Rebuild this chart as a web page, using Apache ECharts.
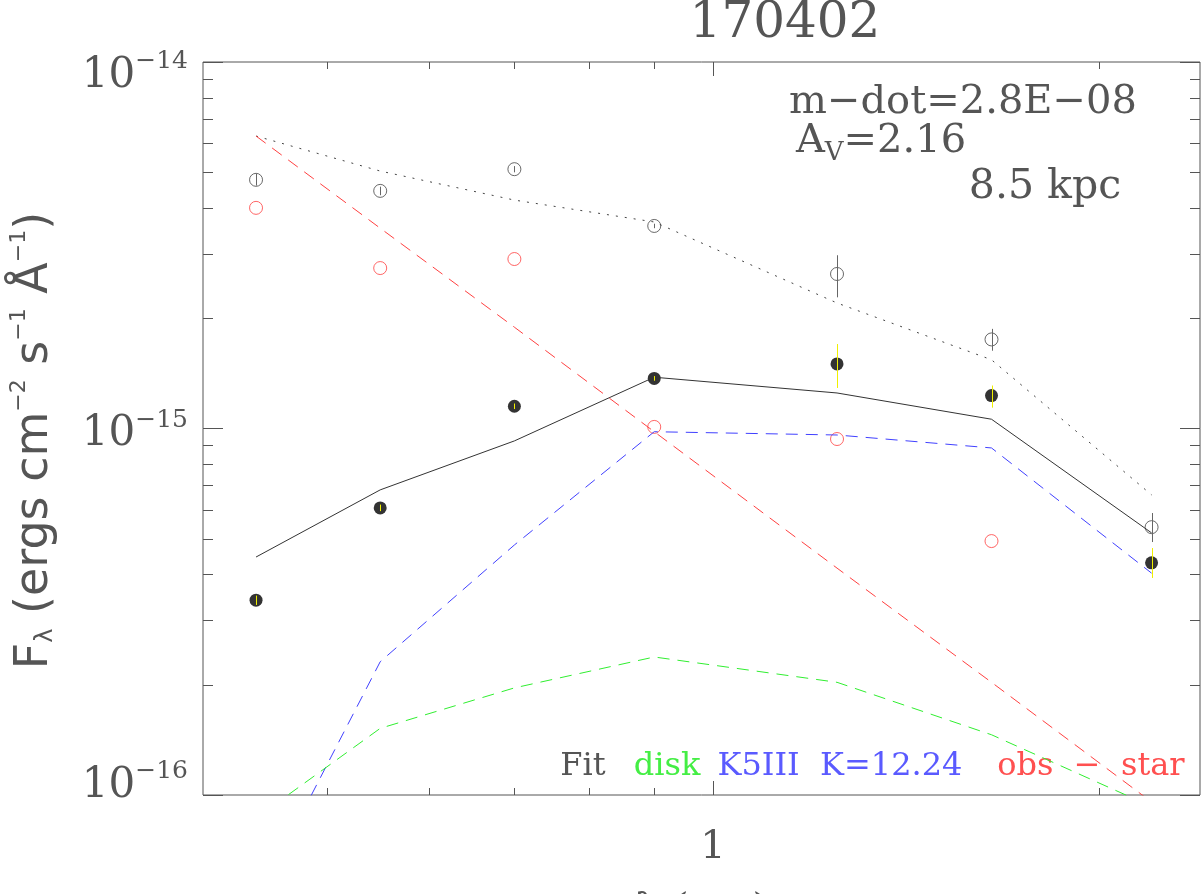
<!DOCTYPE html>
<html>
<head>
<meta charset="utf-8">
<script src="https://cdn.jsdelivr.net/npm/echarts@6/dist/echarts.min.js"></script>
<style>
  html, body { margin: 0; padding: 0; background: #fff; }
  #chart { width: 1202px; height: 894px; }
</style>
</head>
<body>
<div id="chart"></div>
<script>
// photometric bands, microns
const wavelength = [0.44, 0.55, 0.70, 0.90, 1.25, 1.65, 2.20];

// observed fluxes (open black circles) and their error range
const obsFlux = [4.77e-15, 4.45e-15, 5.10e-15, 3.57e-15, 2.64e-15, 1.75e-15, 5.38e-16];
const obsErrLo = [4.60e-15, 4.33e-15, 5.00e-15, 3.52e-15, 2.28e-15, 1.63e-15, 4.90e-16];
const obsErrHi = [4.95e-15, 4.57e-15, 5.20e-15, 3.62e-15, 2.97e-15, 1.87e-15, 5.88e-16];

// obs - star (open red circles), no K point
const residFlux = [4.00e-15, 2.74e-15, 2.90e-15, 1.01e-15, 9.36e-16, 4.93e-16, null];

// filled black points with yellow error bars
const diskObs = [3.40e-16, 6.07e-16, 1.15e-15, 1.37e-15, 1.50e-15, 1.23e-15, 4.30e-16];
const diskErrLo = [3.30e-16, 5.95e-16, 1.13e-15, 1.35e-15, 1.29e-15, 1.14e-15, 3.91e-16];
const diskErrHi = [3.50e-16, 6.20e-16, 1.17e-15, 1.39e-15, 1.70e-15, 1.31e-15, 4.72e-16];

// model curves
const fitFlux = [4.46e-16, 6.80e-16, 9.25e-16, 1.38e-15, 1.25e-15, 1.06e-15, 5.19e-16];
const totalFlux = [6.28e-15, 5.04e-15, 4.20e-15, 3.66e-15, 2.20e-15, 1.54e-15, 6.59e-16];
const redModel = [6.28e-15, 3.52e-15, 1.89e-15, 9.80e-16, 4.16e-16, 2.03e-16, 9.57e-17];
const starFlux = [5.10e-17, 2.31e-16, 4.81e-16, 9.80e-16, 9.60e-16, 8.85e-16, 4.03e-16];
const diskFlux = [8.65e-17, 1.52e-16, 1.96e-16, 2.38e-16, 2.03e-16, 1.46e-16, 9.30e-17];

// axis ticks and labels
const xMajorTicks = [1];
const xMinorTicks = [0.5, 0.6, 0.7, 0.8, 0.9, 2];
const xTickLabels = ['1'];
const yMajorTicks = [1e-16, 1e-15, 1e-14];
const yMinorTicks = [2e-16, 3e-16, 4e-16, 5e-16, 6e-16, 7e-16, 8e-16, 9e-16,
                     2e-15, 3e-15, 4e-15, 5e-15, 6e-15, 7e-15, 8e-15, 9e-15];
const yTickLabels = ['\u221216', '\u221215', '\u221214'];

const ink = '#555';
const serif = 'DejaVu Serif';
const sans = 'DejaVu Sans';

const pairs = arr => wavelength.map((w, i) => [w, arr[i]]);

const tickData = [];
yMajorTicks.forEach(v => tickData.push([1, v, 1, 1]));
yMinorTicks.forEach(v => tickData.push([1, v, 1, 0]));
xMajorTicks.forEach(v => tickData.push([v, 1e-15, 0, 1]));
xMinorTicks.forEach(v => tickData.push([v, 1e-15, 0, 0]));

const tickLine = (x1, y1, x2, y2) => ({
  type: 'line',
  shape: { x1, y1, x2, y2 },
  style: { stroke: ink, lineWidth: 1 }
});

const errorBars = (lo, hi, color, width) => ({
  type: 'custom',
  clip: false,
  z: 5,
  data: wavelength.map((w, i) => [w, lo[i], hi[i]]),
  renderItem: (params, api) => {
    const p0 = api.coord([api.value(0), api.value(1)]);
    const p1 = api.coord([api.value(0), api.value(2)]);
    const x = Math.round(p0[0]) + 0.5;
    return {
      type: 'line',
      shape: { x1: x, y1: p0[1], x2: x, y2: p1[1] },
      style: { stroke: color, lineWidth: width }
    };
  }
});

const chart = echarts.init(document.getElementById('chart'));

chart.setOption({
  backgroundColor: '#fff',
  animation: false,
  grid: {
    left: 203, top: 62, width: 997, height: 733,
    outerBoundsMode: 'none', containLabel: false,
    show: true, borderColor: ink, borderWidth: 1, backgroundColor: 'transparent'
  },
  xAxis: {
    type: 'log', logBase: 10, min: 0.4, max: 2.4,
    axisLine: { show: false }, axisTick: { show: false },
    axisLabel: { show: false }, splitLine: { show: false },
    name: '\u03bb (\u03bcm)', nameLocation: 'middle', nameGap: 96,
    nameTextStyle: { fontFamily: serif, fontSize: 40, color: ink }
  },
  yAxis: {
    type: 'log', logBase: 10, min: 1e-16, max: 1e-14,
    axisLine: { show: false }, axisTick: { show: false },
    axisLabel: { show: false }, splitLine: { show: false },
    name: '{m|F}{sub|\u03bb}{m| (ergs cm}{sup|\u22122}{m| s}{sup|\u22121}{m| \u00c5}{sup|\u22121}{m|)}',
    nameLocation: 'middle', nameRotate: 90, nameGap: 145,
    nameTextStyle: {
      color: ink,
      padding: [0, 24, 0, 0],
      rich: {
        m: { fontFamily: sans, fontSize: 46, lineHeight: 50, padding: [4, 0, 0, 0], color: ink },
        sup: { fontFamily: sans, fontSize: 22, lineHeight: 22, verticalAlign: 'top', color: ink },
        sub: { fontFamily: sans, fontSize: 24, lineHeight: 30, verticalAlign: 'bottom', color: ink }
      }
    }
  },
  graphic: [
    { type: 'text', x: 785, y: 24, style: { text: '170402', font: '50px "DejaVu Serif"', fill: ink, align: 'center', verticalAlign: 'middle' } },
    { type: 'text', x: 963, y: 103, style: { text: 'm\u2212dot=2.8E\u221208', font: '40px "DejaVu Serif"', fill: ink, align: 'center', verticalAlign: 'middle' } },
    {
      type: 'text', x: 881, y: 146,
      style: {
        text: '{a|A}{s|V}{a|=2.16}', align: 'center', verticalAlign: 'middle', fill: ink,
        rich: {
          a: { fontFamily: serif, fontSize: 40, lineHeight: 40, padding: [0, 0, 8, 0], fill: ink },
          s: { fontFamily: serif, fontSize: 26, lineHeight: 26, verticalAlign: 'bottom', fill: ink }
        }
      }
    },
    { type: 'text', x: 1045, y: 187, style: { text: '8.5 kpc', font: '41px "DejaVu Serif"', fill: ink, align: 'center', verticalAlign: 'middle' } },
    { type: 'text', x: 583, y: 767, style: { text: 'Fit', font: '32px "DejaVu Serif"', fill: ink, align: 'center', verticalAlign: 'middle' } },
    { type: 'text', x: 667, y: 767, style: { text: 'disk', font: '32px "DejaVu Serif"', fill: '#44ee44', align: 'center', verticalAlign: 'middle' } },
    { type: 'text', x: 840, y: 767, style: { text: 'K5III  K=12.24', font: '32px "DejaVu Serif"', fill: '#5a5aff', align: 'center', verticalAlign: 'middle' } },
    { type: 'text', x: 1091, y: 767, style: { text: 'obs  \u2212  star', font: '32px "DejaVu Serif"', fill: '#ff5050', align: 'center', verticalAlign: 'middle' } }
  ],
  series: [
    {
      name: 'total', type: 'line', data: pairs(totalFlux), symbol: 'none',
      lineStyle: { color: '#444', width: 1, type: [2, 7] }
    },
    {
      name: 'Fit', type: 'line', data: pairs(fitFlux), symbol: 'none',
      lineStyle: { color: '#333', width: 1 }
    },
    {
      name: 'obs - star model', type: 'line', data: pairs(redModel), symbol: 'none',
      lineStyle: { color: '#ff4040', width: 1, type: [12, 8] }
    },
    {
      name: 'K5III', type: 'line', data: pairs(starFlux), symbol: 'none',
      lineStyle: { color: '#4040ff', width: 1, type: [12, 8] }
    },
    {
      name: 'disk', type: 'line', data: pairs(diskFlux), symbol: 'none',
      lineStyle: { color: '#30ee30', width: 1, type: [12, 8] }
    },
    {
      name: 'obs', type: 'scatter', data: pairs(obsFlux), symbol: 'circle', symbolSize: 13,
      itemStyle: { color: 'rgba(0,0,0,0)', borderColor: '#444', borderWidth: 1 }
    },
    {
      name: 'obs - star', type: 'scatter', data: pairs(residFlux).filter(d => d[1] != null),
      symbol: 'circle', symbolSize: 13,
      itemStyle: { color: 'rgba(0,0,0,0)', borderColor: '#ff4040', borderWidth: 1 }
    },
    {
      name: 'disk obs', type: 'scatter', data: pairs(diskObs), symbol: 'circle', symbolSize: 13,
      itemStyle: { color: '#000' }
    },
    errorBars(obsErrLo, obsErrHi, '#666', 1),
    errorBars(diskErrLo, diskErrHi, '#f0f000', 1),
    {
      // frame ticks on all four sides
      type: 'custom', clip: false, z: 6, silent: true,
      data: tickData,
      renderItem: (params, api) => {
        const cs = params.coordSys;
        const major = api.value(3) === 1;
        if (api.value(2) === 1) {
          const y = Math.round(api.coord([1, api.value(1)])[1]) + 0.5;
          const len = major ? 20 : 10;
          return {
            type: 'group',
            children: [
              tickLine(cs.x, y, cs.x + len, y),
              tickLine(cs.x + cs.width - len, y, cs.x + cs.width, y)
            ]
          };
        }
        const x = Math.round(api.coord([api.value(0), 1e-15])[0]) + 0.5;
        const len = major ? 14 : 7;
        const bottom = cs.y + cs.height;
        return {
          type: 'group',
          children: [
            tickLine(x, bottom - len, x, bottom),
            tickLine(x, cs.y, x, cs.y + len)
          ]
        };
      }
    },
    {
      // y tick labels 10^n
      type: 'custom', clip: false, silent: true,
      data: yMajorTicks.map(v => [1, v]),
      renderItem: (params, api) => {
        const cs = params.coordSys;
        const i = params.dataIndex;
        const y = api.coord([1, api.value(1)])[1];
        let va = 'middle';
        let dy = 1;
        if (i === 0) { va = 'bottom'; dy = 8; }
        else if (i === yMajorTicks.length - 1) { va = 'top'; dy = -13; }
        return {
          type: 'text', x: cs.x - 15, y: y + dy,
          style: {
            text: '{a|10}{b|' + yTickLabels[i] + '}',
            align: 'right', verticalAlign: va, fill: ink,
            rich: {
              a: { fontFamily: serif, fontSize: 42, lineHeight: 44, padding: [10, 0, 0, 0], fill: ink },
              b: { fontFamily: serif, fontSize: 25, lineHeight: 25, verticalAlign: 'top', fill: ink }
            }
          }
        };
      }
    },
    {
      // x tick labels
      type: 'custom', clip: false, silent: true,
      data: xMajorTicks.map(v => [v, 1e-16]),
      renderItem: (params, api) => {
        const p = api.coord([api.value(0), api.value(1)]);
        return {
          type: 'text', x: p[0], y: p[1] + 53,
          style: {
            text: xTickLabels[params.dataIndex], font: '40px "DejaVu Serif"',
            fill: ink, align: 'center', verticalAlign: 'middle'
          }
        };
      }
    }
  ]
});
</script>
</body>
</html>
